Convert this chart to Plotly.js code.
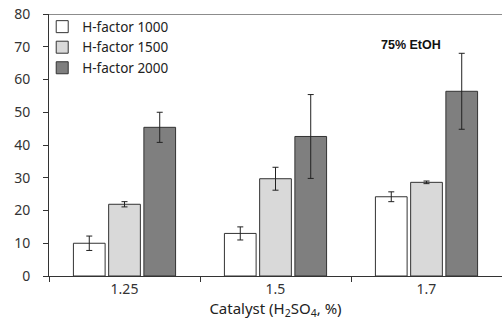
<!DOCTYPE html>
<html><head><meta charset="utf-8">
<script src="https://cdn.plot.ly/plotly-3.0.1.min.js"></script>
<style>body{margin:0;background:#fff}#c{width:502px;height:320px}</style>
</head><body><div id="c"></div>
<script>
const categories = ['1.25', '1.5', '1.7'];
const seriesNames = ['H-factor 1000', 'H-factor 1500', 'H-factor 2000'];
const h1000 = [10.0, 13.0, 24.2];
const h1000Err = [2.2, 2.0, 1.5];
const h1500 = [21.9, 29.7, 28.6];
const h1500Err = [0.8, 3.5, 0.4];
const h2000 = [45.4, 42.6, 56.4];
const h2000Err = [4.6, 12.8, 11.6];
const yTicks = [0, 10, 20, 30, 40, 50, 60, 70, 80];

const colors = ['#ffffff', '#d9d9d9', '#7f7f7f'];
const vals = [h1000, h1500, h2000];
const errs = [h1000Err, h1500Err, h2000Err];
const font = "'Noto Sans', 'Open Sans', sans-serif";

const traces = vals.map((v, i) => ({
  type: 'bar', x: categories, y: v, name: seriesNames[i],
  marker: {color: colors[i], line: {color: '#333333', width: 1}},
  error_y: {type: 'data', array: errs[i], visible: true, color: '#222', thickness: 1, width: 3}
}));

const layout = {
  width: 502, height: 320,
  margin: {l: 49, r: 0, t: 14, b: 44},
  paper_bgcolor: '#fff', plot_bgcolor: '#fff',
  barmode: 'group', bargap: 0.3, bargroupgap: 0.1,
  font: {family: font, size: 13, color: '#333'},
  showlegend: true,
  legend: {x: -0.015, y: 1.01, xanchor: 'left', yanchor: 'top', bgcolor: 'rgba(0,0,0,0)',
           font: {family: font, size: 13.5, color: '#222'}, tracegroupgap: 0, itemwidth: 30},
  xaxis: {type: 'category', tickson: 'boundaries', ticks: 'outside', ticklen: 5, tickcolor: '#333',
          showline: true, linecolor: '#333', linewidth: 1, showgrid: false,
          tickfont: {family: font, size: 14, color: '#333'},
          title: {text: 'Catalyst (H<sub>2</sub>SO<sub>4</sub>, %)', standoff: 6, font: {family: font, size: 15, color: '#222'}}},
  yaxis: {range: [0, 80], tickvals: yTicks, ticks: 'outside', ticklen: 5, tickcolor: '#333',
          showline: true, linecolor: '#333', linewidth: 1, showgrid: false, zeroline: false,
          ticklabelstandoff: 10,
          tickfont: {family: font, size: 14, color: '#333'}},
  shapes: [{type: 'line', xref: 'paper', yref: 'y', x0: 0, x1: 1, y0: 80, y1: 80,
            line: {color: '#8c8c8c', width: 2}}],
  annotations: [{text: '<b>75% EtOH</b>', xref: 'paper', yref: 'paper', x: 0.8, y: 0.88,
                 xanchor: 'center', yanchor: 'middle', showarrow: false,
                 font: {family: 'Liberation Sans, Arial, sans-serif', size: 12.5, color: '#111'}}]
};
Plotly.newPlot('c', traces, layout, {displayModeBar: false, staticPlot: true});
</script></body></html>
